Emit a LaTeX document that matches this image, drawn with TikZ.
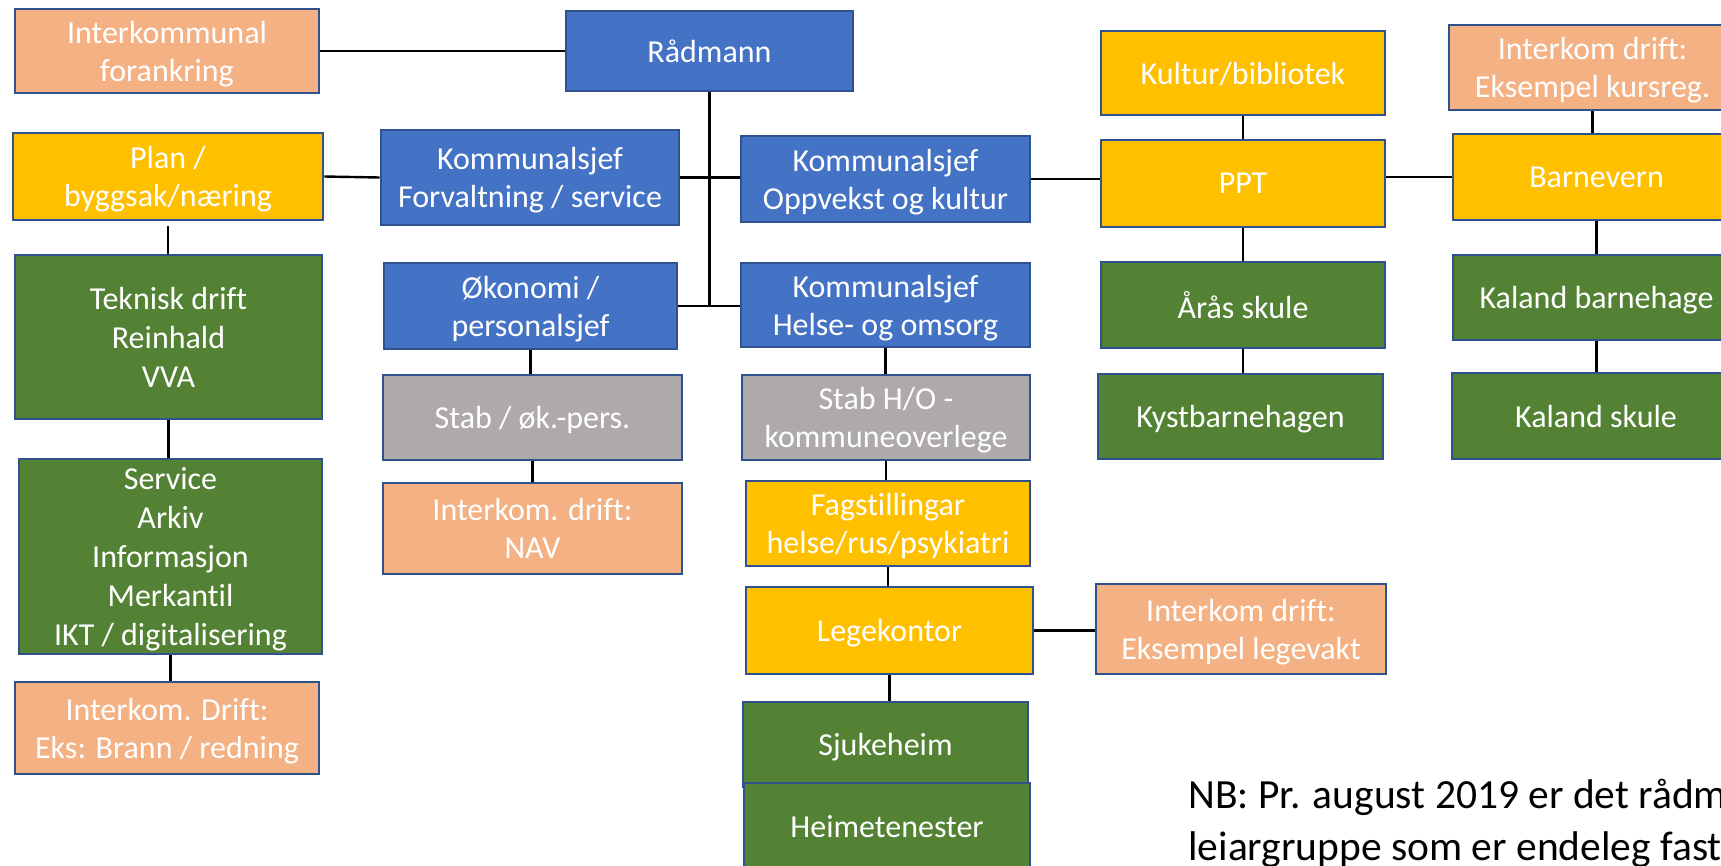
\documentclass[tikz,border=0pt]{standalone}
\usepackage{fontspec}
\setmainfont{Carlito}[Ligatures=NoCommon]
\tikzset{every picture/.style={line width=0.75pt}}

\begin{document}
\begin{tikzpicture}[x=1pt,y=1pt,yscale=-1,xscale=1,
		orgbox/.style={draw={rgb, 255:red, 47; green, 82; blue, 143}, line width=2.8pt, text=white, align=center, inner sep=0pt, text depth=0pt, font=\fontsize{32}{38}\selectfont},
		wh/.style 2 args={minimum width=#1, minimum height=#2},
		multiline/.style={font=\fontsize{32}{39}\selectfont},
		bluebox/.style={orgbox, fill={rgb, 255:red, 68; green, 114; blue, 196}},
		peachbox/.style={orgbox, fill={rgb, 255:red, 244; green, 177; blue, 131}},
		yellowbox/.style={orgbox, fill={rgb, 255:red, 255; green, 192; blue, 0}},
		greenbox/.style={orgbox, fill={rgb, 255:red, 84; green, 130; blue, 53}},
		greybox/.style={orgbox, fill={rgb, 255:red, 174; green, 170; blue, 170}},
		orgline/.style={draw=black, line width=2.4pt},
		nbnote/.style={anchor=base west, inner sep=0pt, font=\fontsize{41.5}{50}\selectfont}]
		\useasboundingbox (0,0) rectangle (1721,865);
		
		%Leiing
		\node (fork) [peachbox, wh={304}{84}] at (167,51) {Interkommunal\\forankring};
		\node (rad) [bluebox, wh={287}{80}] at (709.5,51) {Rådmann};
		\node (forv) [bluebox, wh={298}{95}] at (530,177.5) {Kommunalsjef\\Forvaltning / service};
		\node (oppv) [bluebox, wh={289}{86}] at (885.5,179) {Kommunalsjef\\Oppvekst og kultur};
		\node (okonomi) [bluebox, wh={293}{86}] at (530.5,306) {Økonomi /\\personalsjef};
		\node (helse) [bluebox, wh={289}{84}] at (885.5,305) {Kommunalsjef\\Helse- og omsorg};
		
		%Forvaltning / service
		\node (plan) [yellowbox, wh={310}{87}] at (168,176.5) {Plan /\\byggsak/næring};
		\node (teknisk) [greenbox, multiline, wh={307}{164}] at (168.5,337) {Teknisk drift\\Reinhald\\VVA};
		\node (service) [greenbox, multiline, wh={303}{195}] at (170.5,556.5) {Service\\Arkiv\\Informasjon\\Merkantil\\IKT / digitalisering};
		\node (brann) [peachbox, wh={304}{92}] at (167,728) {Interkom. Drift:\\Eks: Brann / redning};
		
		%Økonomi / personal
		\node (staboek) [greybox, wh={299}{85}] at (532.5,417.5) {Stab / øk.-pers.};
		\node (nav) [peachbox, wh={299}{91}] at (532.5,528.5) {Interkom. drift:\\NAV};
		
		%Helse og omsorg
		\node (stabho) [greybox, wh={288}{85}] at (886,417.5) {Stab H/O -\\kommuneoverlege};
		\node (fag) [yellowbox, wh={284}{85}] at (888,523.5) {Fagstillingar\\helse/rus/psykiatri};
		\node (lege) [yellowbox, wh={287}{87}] at (889.5,630.5) {Legekontor};
		\node (legevakt) [peachbox, wh={290}{90}] at (1241,629) {Interkom drift:\\Eksempel legevakt};
		\node (sjuke) [greenbox, wh={285}{85}] at (885.5,744.5) {Sjukeheim};
		\node (heime) [greenbox, wh={286}{86}] at (887,826) {Heimetenester};
		
		%Oppvekst og kultur
		\node (kultur) [yellowbox, wh={284}{84}] at (1243,73) {Kultur/bibliotek};
		\node (ppt) [yellowbox, wh={284}{87}] at (1243,183.5) {PPT};
		\node (aaras) [greenbox, wh={284}{86}] at (1243,305) {Årås skule};
		\node (kyst) [greenbox, wh={285}{85}] at (1240.5,416.5) {Kystbarnehagen};
		\node (kursreg) [peachbox, wh={287}{85}] at (1592.5,67.5) {Interkom drift:\\Eksempel kursreg.};
		\node (barnevern) [yellowbox, wh={287}{86}] at (1596.5,177) {Barnevern};
		\node (kalbh) [greenbox, wh={287}{85}] at (1596.5,297.5) {Kaland barnehage};
		\node (kalsk) [greenbox, wh={288}{86}] at (1596,416) {Kaland skule};
		
		\draw [orgline] (fork.east) -- (rad.west);
		\draw [orgline] (rad.south) -- (rad.south |- okonomi.east);
		\draw [orgline] (plan.east) -- (forv.west);
		\draw [orgline] (forv.east) -- (forv.east -| oppv.west);
		\draw [orgline] (okonomi.east) -- (okonomi.east -| helse.west);
		\draw [orgline] (oppv.east) -- (oppv.east -| ppt.west);
		\draw [orgline] (ppt.east |- barnevern.west) -- (barnevern.west);
		\draw [orgline] ([yshift=5]plan.south) -- (plan.south |- teknisk.north);
		\draw [orgline] (teknisk.south) -- (teknisk.south |- service.north);
		\draw [orgline] (service.south) -- (service.south |- brann.north);
		\draw [orgline] (okonomi.south) -- (okonomi.south |- staboek.north);
		\draw [orgline] (staboek.south) -- (staboek.south |- nav.north);
		\draw [orgline] (helse.south) -- (helse.south |- stabho.north);
		\draw [orgline] (stabho.south) -- (stabho.south |- fag.north);
		\draw [orgline] (fag.south) -- (fag.south |- lege.north);
		\draw [orgline] (lege.east) -- (lege.east -| legevakt.west);
		\draw [orgline] (lege.south) -- (lege.south |- sjuke.north);
		\draw [orgline] (kultur) -- (ppt);
		\draw [orgline] (ppt) -- (aaras);
		\draw [orgline] (aaras.south) -- (aaras.south |- kyst.north);
		\draw [orgline] (kursreg.south) -- (kursreg.south |- barnevern.north);
		\draw [orgline] (barnevern) -- (kalbh);
		\draw [orgline] (kalbh.south) -- (kalbh.south |- kalsk.north);
		
		%Merknad
		\node (nbtop) [nbnote] at (1188,808) {NB: Pr. august 2019 er det rådm};
		\node (nbbot) [nbnote] at (1188,860) {leiargruppe som er endeleg fast};
		
	\end{tikzpicture}
\end{document}
